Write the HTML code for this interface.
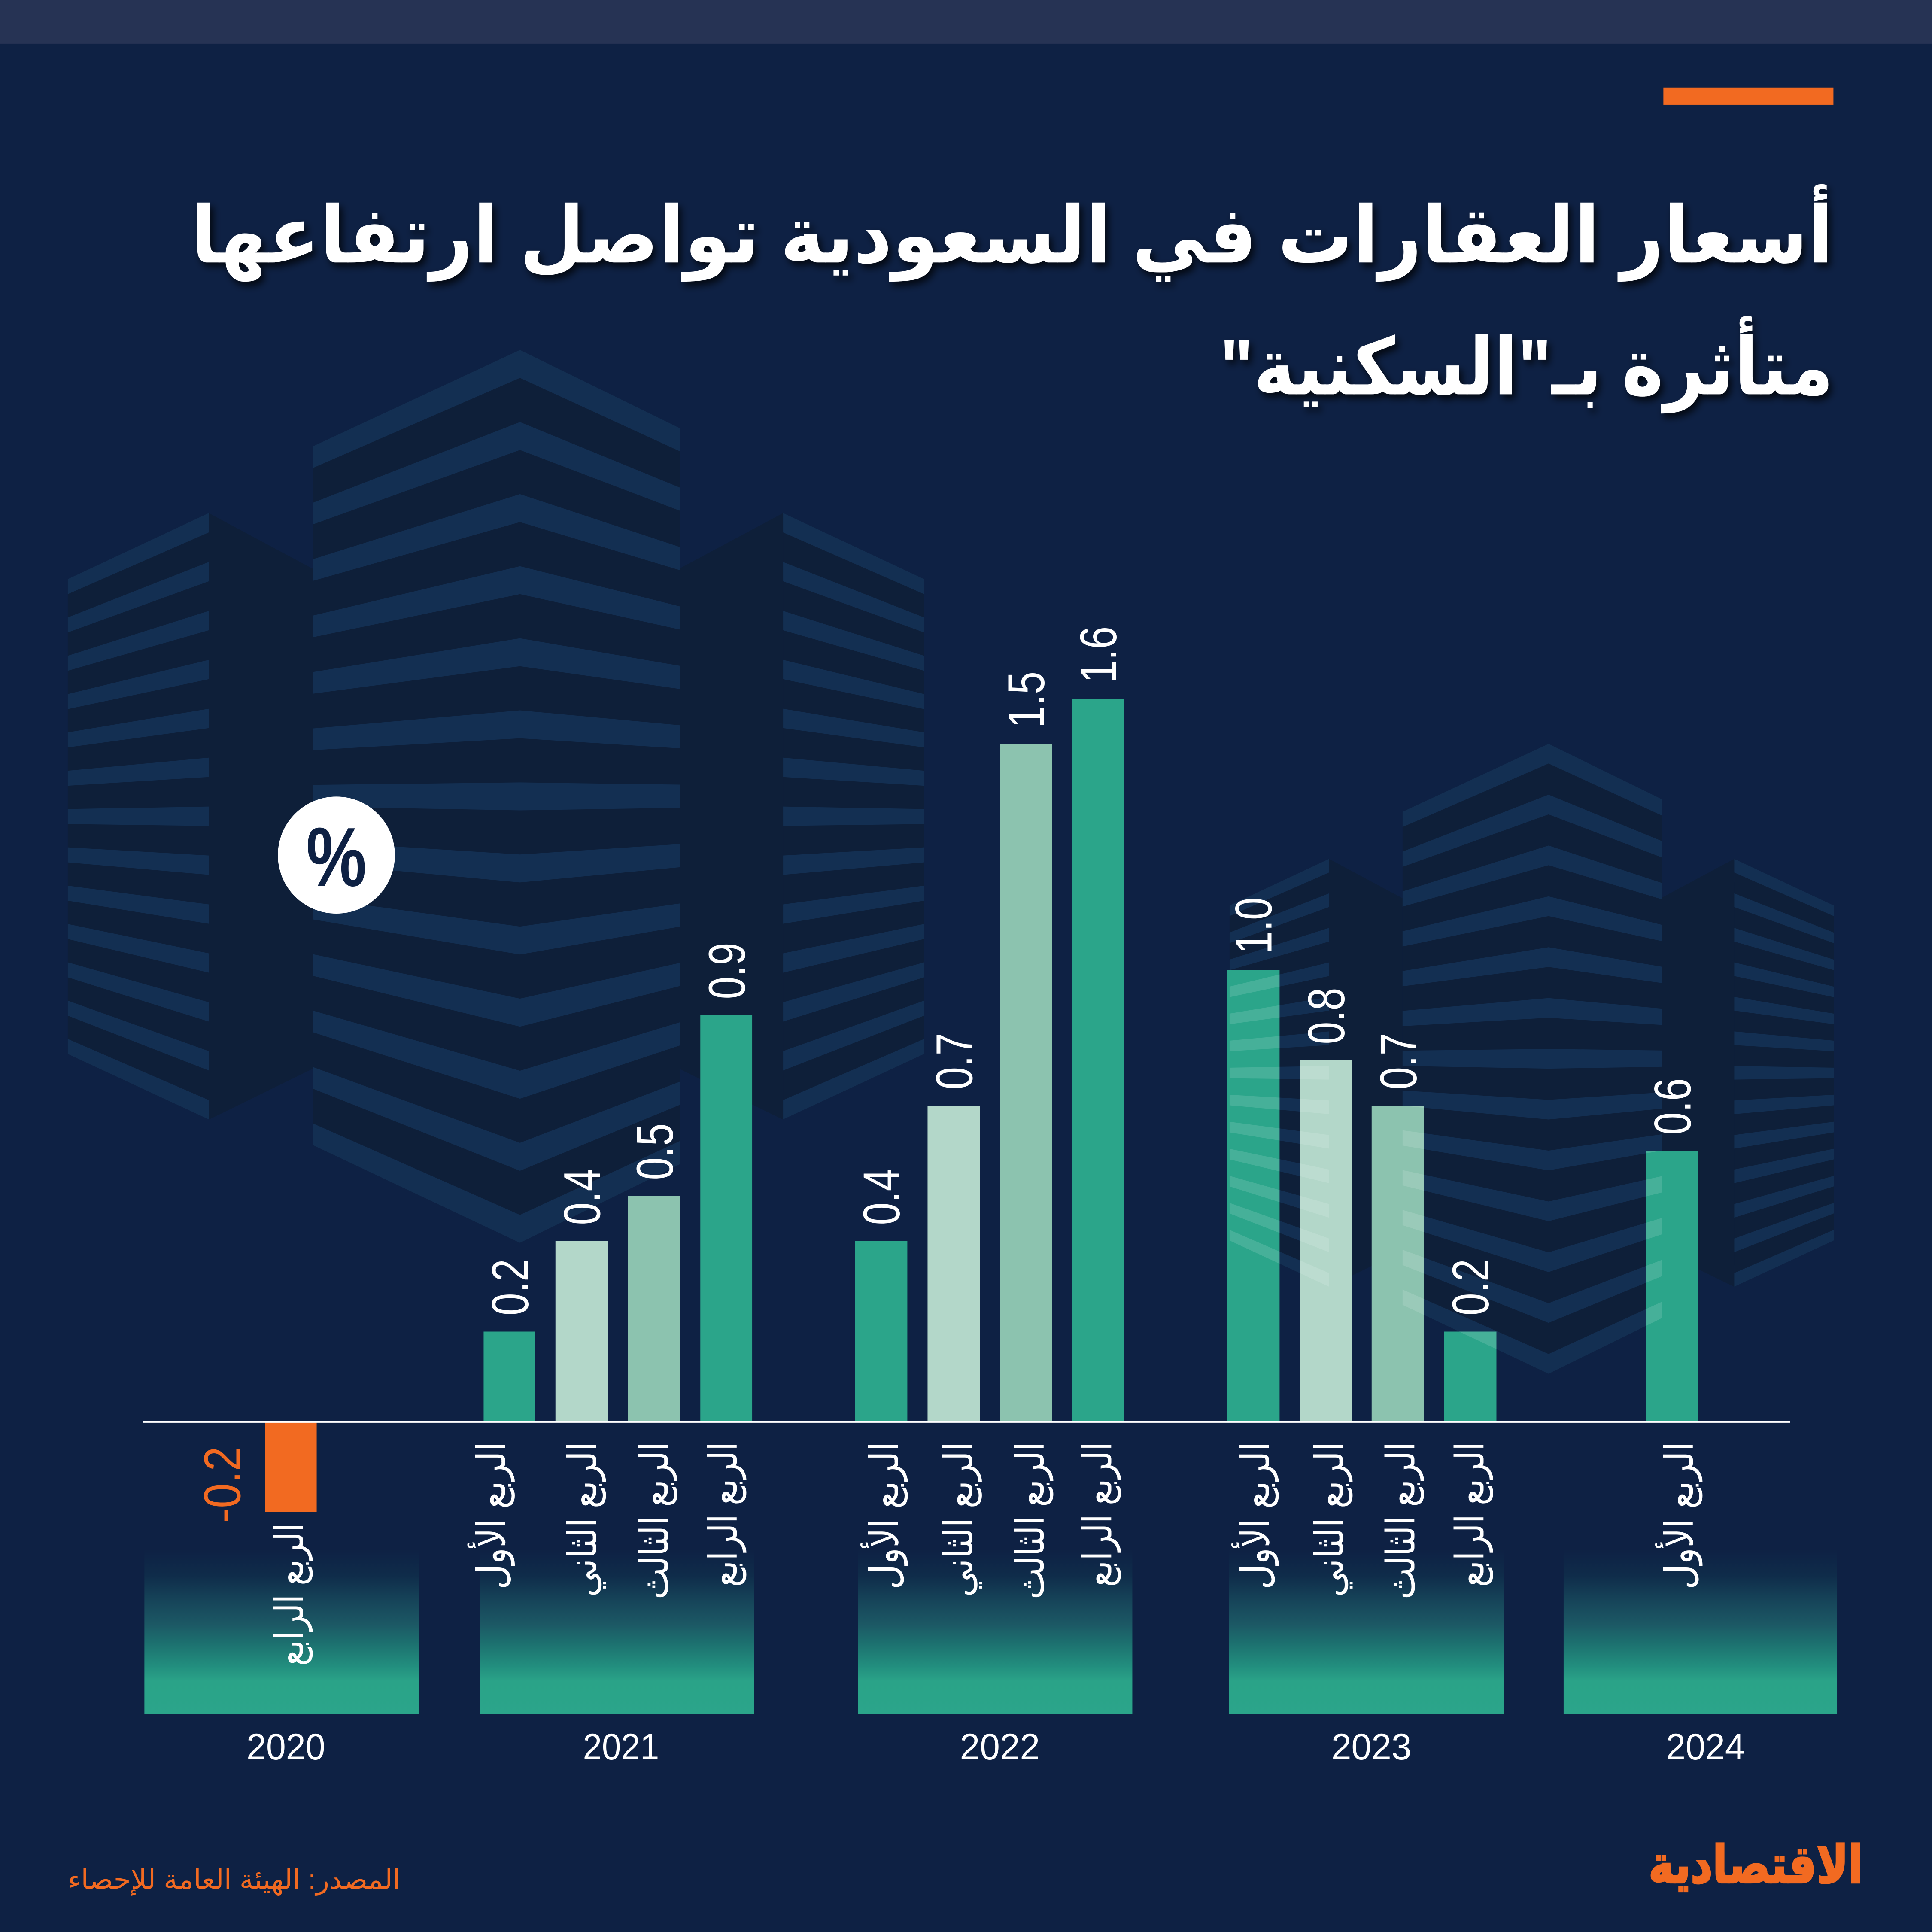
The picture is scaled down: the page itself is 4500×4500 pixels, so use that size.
<!DOCTYPE html>
<html>
<head>
<meta charset="utf-8">
<style>
html,body{margin:0;padding:0;background:#0e2144;}
svg{display:block;}
</style>
</head>
<body>
<svg xmlns="http://www.w3.org/2000/svg" xmlns:xlink="http://www.w3.org/1999/xlink" width="4500" height="4500" viewBox="0 0 1568 1568">
<defs>
  <linearGradient id="yg" x1="0" y1="0" x2="0" y2="1">
    <stop offset="0" stop-color="#0e2144"/>
    <stop offset="0.16" stop-color="#0f2c4a"/>
    <stop offset="0.31" stop-color="#164459"/>
    <stop offset="0.46" stop-color="#1c5965"/>
    <stop offset="0.56" stop-color="#1c6e6e"/>
    <stop offset="0.71" stop-color="#228e7e"/>
    <stop offset="0.80" stop-color="#2aa388"/>
    <stop offset="1" stop-color="#2ba58a"/>
  </linearGradient>
  <filter id="sh" x="-5%" y="-30%" width="110%" height="160%">
    <feDropShadow dx="2.5" dy="3.5" stdDeviation="3" flood-color="#000" flood-opacity="0.75"/>
  </filter>
  <g id="sL">
    <polygon points="55,470 169.4,416.4 169.4,432.1 55,482.2"/>
    <polygon points="55,501.1 169.4,456.1 169.4,471.8 55,513.3"/>
    <polygon points="55,532.2 169.4,495.8 169.4,511.5 55,544.4"/>
    <polygon points="55,563.3 169.4,535.5 169.4,551.2 55,575.5"/>
    <polygon points="55,594.4 169.4,575.2 169.4,590.9 55,606.6"/>
    <polygon points="55,625.5 169.4,614.9 169.4,630.6 55,637.7"/>
    <polygon points="55,656.6 169.4,654.6 169.4,670.3 55,668.8"/>
    <polygon points="55,687.7 169.4,694.3 169.4,710 55,699.9"/>
    <polygon points="55,718.8 169.4,734 169.4,749.7 55,731"/>
    <polygon points="55,749.9 169.4,773.7 169.4,789.4 55,762.1"/>
    <polygon points="55,781 169.4,813.4 169.4,829.1 55,793.2"/>
    <polygon points="55,812.1 169.4,853.1 169.4,868.8 55,824.3"/>
    <polygon points="55,843.2 169.4,892.8 169.4,908.5 55,855.4"/>
  </g>
  <g id="sC">
    <polygon points="254,362.2 422,284 552,347.6 552,366.4 422,306.7 254,379.8"/>
    <polygon points="254,408 422,342.5 552,395.8 552,414.6 422,365.2 254,425.6"/>
    <polygon points="254,453.8 422,401 552,444 552,462.8 422,423.7 254,471.4"/>
    <polygon points="254,499.6 422,459.5 552,492.2 552,511 422,482.2 254,517.2"/>
    <polygon points="254,545.4 422,518 552,540.4 552,559.2 422,540.7 254,563"/>
    <polygon points="254,591.2 422,576.5 552,588.6 552,607.4 422,599.2 254,608.8"/>
    <polygon points="254,637 422,635 552,636.8 552,655.6 422,657.7 254,654.6"/>
    <polygon points="254,682.8 422,693.5 552,685 552,703.8 422,716.2 254,700.4"/>
    <polygon points="254,728.6 422,752 552,733.2 552,752 422,774.7 254,746.2"/>
    <polygon points="254,774.4 422,810.5 552,781.4 552,800.2 422,833.2 254,792"/>
    <polygon points="254,820.2 422,869 552,829.6 552,848.4 422,891.7 254,837.8"/>
    <polygon points="254,866 422,927.5 552,877.8 552,896.6 422,950.2 254,883.6"/>
    <polygon points="254,911.8 422,986 552,926 552,944.8 422,1008.7 254,929.4"/>
  </g>
  <g id="sAll">
    <use xlink:href="#sL"/>
    <use xlink:href="#sL" transform="translate(805,0) scale(-1,1)"/>
    <use xlink:href="#sC"/>
  </g>
  <g id="sideDark">
    <polygon points="55,470 169.4,416.4 169.4,908.5 55,855.4"/>
    <polygon points="169.4,416.4 254,461.7 254,867.3 169.4,908.7"/>
  </g>
  <g id="bldg">
    <g fill="#0e1f39">
      <use xlink:href="#sideDark"/>
      <use xlink:href="#sideDark" transform="translate(805,0) scale(-1,1)"/>
      <polygon points="254,362.2 422,284 552,347.6 552,944.8 422,1008.7 254,929.4"/>
    </g>
    <g fill="#132f52">
      <use xlink:href="#sAll"/>
    </g>
  </g>
  <clipPath id="bc" clipPathUnits="userSpaceOnUse">
    <rect x="996" y="787.3" width="42.5" height="366.7"/>
    <rect x="1054.8" y="860.6" width="42.4" height="293.4"/>
    <rect x="1113.2" y="897.3" width="42.4" height="256.7"/>
    <rect x="1172" y="1080.7" width="42.5" height="73.3"/>
    <rect x="1336" y="934" width="42" height="220"/>
  </clipPath>
</defs>

<!-- background -->
<rect x="0" y="0" width="1568" height="1568" fill="#0e2144"/>
<rect x="0" y="0" width="1568" height="35.5" fill="#263354"/>
<rect x="1350" y="71" width="138" height="14" fill="#f26a21"/>

<!-- buildings -->
<use xlink:href="#bldg"/>
<use xlink:href="#bldg" transform="translate(959.1,403.3) scale(0.7055)"/>

<!-- title -->
<g filter="url(#sh)" fill="#ffffff" font-family="'Liberation Sans','DejaVu Sans',sans-serif" font-weight="bold" font-size="64">
  <text x="1488" y="213" text-anchor="end" textLength="1333" lengthAdjust="spacingAndGlyphs">أسعار العقارات في السعودية تواصل ارتفاعها</text>
  <text x="1488" y="320" text-anchor="end" textLength="498" lengthAdjust="spacingAndGlyphs">متأثرة بـ"السكنية"&#x200F;</text>
</g>

<!-- percent circle -->
<circle cx="273" cy="694" r="47.5" fill="#ffffff"/>
<text x="273" y="719" text-anchor="middle" font-family="'Liberation Sans',sans-serif" font-weight="bold" font-size="68" fill="#0e2144" textLength="49" lengthAdjust="spacingAndGlyphs">%</text>

<!-- year boxes -->
<g fill="url(#yg)">
  <rect x="117.2" y="1257.5" width="222.8" height="133.5"/>
  <rect x="389.6" y="1257.5" width="222.6" height="133.5"/>
  <rect x="696.5" y="1257.5" width="222.5" height="133.5"/>
  <rect x="997.6" y="1257.5" width="222.9" height="133.5"/>
  <rect x="1269" y="1257.5" width="222" height="133.5"/>
</g>

<!-- bars -->
<rect x="215" y="1154" width="42" height="73" fill="#f26a21"/>
<rect x="392.5" y="1080.7" width="42" height="73.3" fill="#2ba58a"/>
<rect x="450.8" y="1007.3" width="42.5" height="146.7" fill="#b3d7c9"/>
<rect x="509.6" y="970.7" width="42.4" height="183.3" fill="#8cc3af"/>
<rect x="568.4" y="824" width="42.1" height="330" fill="#2ba58a"/>

<rect x="694" y="1007.3" width="42.4" height="146.7" fill="#2ba58a"/>
<rect x="752.8" y="897.3" width="42.4" height="256.7" fill="#b3d7c9"/>
<rect x="811.6" y="604" width="42.1" height="550" fill="#8cc3af"/>
<rect x="870" y="567.3" width="42" height="586.7" fill="#2ba58a"/>

<rect x="996" y="787.3" width="42.5" height="366.7" fill="#2ba58a"/>
<rect x="1054.8" y="860.6" width="42.4" height="293.4" fill="#b3d7c9"/>
<rect x="1113.2" y="897.3" width="42.4" height="256.7" fill="#8cc3af"/>
<rect x="1172" y="1080.7" width="42.5" height="73.3" fill="#2ba58a"/>

<rect x="1336" y="934" width="42" height="220" fill="#2ba58a"/>

<!-- building overlay on right-group bars -->
<g clip-path="url(#bc)">
  <use xlink:href="#sAll" transform="translate(959.1,403.3) scale(0.7055)" fill="#ffffff" fill-opacity="0.13"/>
</g>

<!-- axis -->
<line x1="116" y1="1154" x2="1453" y2="1154" stroke="#ffffff" stroke-width="1.4"/>

<!-- value labels -->
<g font-family="'Liberation Sans Narrow','Liberation Sans',sans-serif" font-size="42" fill="#ffffff">
  <text transform="translate(428.5,1067.7) rotate(-90)" textLength="46" lengthAdjust="spacingAndGlyphs">0.2</text>
  <text transform="translate(487,994.3) rotate(-90)" textLength="46" lengthAdjust="spacingAndGlyphs">0.4</text>
  <text transform="translate(546,957.7) rotate(-90)" textLength="46" lengthAdjust="spacingAndGlyphs">0.5</text>
  <text transform="translate(604.5,811) rotate(-90)" textLength="46" lengthAdjust="spacingAndGlyphs">0.9</text>
  <text transform="translate(730,994.3) rotate(-90)" textLength="46" lengthAdjust="spacingAndGlyphs">0.4</text>
  <text transform="translate(789,884.3) rotate(-90)" textLength="46" lengthAdjust="spacingAndGlyphs">0.7</text>
  <text transform="translate(847.5,591) rotate(-90)" textLength="46" lengthAdjust="spacingAndGlyphs">1.5</text>
  <text transform="translate(906,554.3) rotate(-90)" textLength="46" lengthAdjust="spacingAndGlyphs">1.6</text>
  <text transform="translate(1032,774.3) rotate(-90)" textLength="46" lengthAdjust="spacingAndGlyphs">1.0</text>
  <text transform="translate(1091,847.6) rotate(-90)" textLength="46" lengthAdjust="spacingAndGlyphs">0.8</text>
  <text transform="translate(1149.5,884.3) rotate(-90)" textLength="46" lengthAdjust="spacingAndGlyphs">0.7</text>
  <text transform="translate(1208,1067.7) rotate(-90)" textLength="46" lengthAdjust="spacingAndGlyphs">0.2</text>
  <text transform="translate(1372,921) rotate(-90)" textLength="46" lengthAdjust="spacingAndGlyphs">0.6</text>
  <text transform="translate(195,1236) rotate(-90)" textLength="62" lengthAdjust="spacingAndGlyphs" fill="#f26a21">-0.2</text>
</g>

<!-- quarter labels -->
<g font-family="'Liberation Sans','DejaVu Sans',sans-serif" font-size="32" fill="#ffffff">
  <text transform="translate(246,1236) rotate(-90)" text-anchor="end" textLength="116" lengthAdjust="spacingAndGlyphs">الربع الرابع</text>

  <text transform="translate(410,1170) rotate(-90)" text-anchor="end" textLength="120" lengthAdjust="spacingAndGlyphs">الربع الأول</text>
  <text transform="translate(484,1170) rotate(-90)" text-anchor="end" textLength="126" lengthAdjust="spacingAndGlyphs">الربع الثاني</text>
  <text transform="translate(542,1170) rotate(-90)" text-anchor="end" textLength="128" lengthAdjust="spacingAndGlyphs">الربع الثالث</text>
  <text transform="translate(598,1170) rotate(-90)" text-anchor="end" textLength="118" lengthAdjust="spacingAndGlyphs">الربع الرابع</text>

  <text transform="translate(729,1170) rotate(-90)" text-anchor="end" textLength="120" lengthAdjust="spacingAndGlyphs">الربع الأول</text>
  <text transform="translate(789,1170) rotate(-90)" text-anchor="end" textLength="126" lengthAdjust="spacingAndGlyphs">الربع الثاني</text>
  <text transform="translate(847,1170) rotate(-90)" text-anchor="end" textLength="128" lengthAdjust="spacingAndGlyphs">الربع الثالث</text>
  <text transform="translate(902,1170) rotate(-90)" text-anchor="end" textLength="118" lengthAdjust="spacingAndGlyphs">الربع الرابع</text>

  <text transform="translate(1030,1170) rotate(-90)" text-anchor="end" textLength="120" lengthAdjust="spacingAndGlyphs">الربع الأول</text>
  <text transform="translate(1090,1170) rotate(-90)" text-anchor="end" textLength="126" lengthAdjust="spacingAndGlyphs">الربع الثاني</text>
  <text transform="translate(1148,1170) rotate(-90)" text-anchor="end" textLength="128" lengthAdjust="spacingAndGlyphs">الربع الثالث</text>
  <text transform="translate(1204,1170) rotate(-90)" text-anchor="end" textLength="118" lengthAdjust="spacingAndGlyphs">الربع الرابع</text>

  <text transform="translate(1374,1170) rotate(-90)" text-anchor="end" textLength="120" lengthAdjust="spacingAndGlyphs">الربع الأول</text>
</g>

<!-- year labels -->
<g font-family="'Liberation Sans',sans-serif" font-size="30" fill="#ffffff" text-anchor="middle">
  <text x="232" y="1428" textLength="64" lengthAdjust="spacingAndGlyphs">2020</text>
  <text x="504" y="1428" textLength="62" lengthAdjust="spacingAndGlyphs">2021</text>
  <text x="811.5" y="1428" textLength="65" lengthAdjust="spacingAndGlyphs">2022</text>
  <text x="1113" y="1428" textLength="65" lengthAdjust="spacingAndGlyphs">2023</text>
  <text x="1384" y="1428" textLength="64" lengthAdjust="spacingAndGlyphs">2024</text>
</g>

<!-- source -->
<text x="325" y="1533" text-anchor="end" font-family="'Liberation Sans','DejaVu Sans',sans-serif" font-size="22" fill="#f26a21" textLength="270" lengthAdjust="spacingAndGlyphs">المصدر: الهيئة العامة للإحصاء</text>

<!-- logo -->
<text x="1512" y="1528" text-anchor="end" font-family="'Liberation Sans','DejaVu Sans',sans-serif" font-weight="bold" font-size="42" fill="#f26a21" stroke="#f26a21" stroke-width="1.5" textLength="174" lengthAdjust="spacingAndGlyphs">الاقتصادية</text>
</svg>
</body>
</html>
